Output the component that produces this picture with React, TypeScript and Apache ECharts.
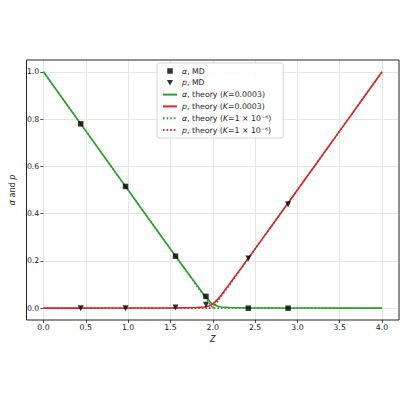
import * as echarts from 'echarts';
import { useEffect, useRef } from 'react';

// MD sample points
const mdZ = [0.44, 0.97, 1.56, 1.92, 2.42, 2.89];
const mdAlpha = [0.78, 0.515, 0.22, 0.05, 0.0, 0.0];
const mdP = [0.0, 0.0, 0.003, 0.015, 0.21, 0.44];

// theory, K = 0.0003
const thZ = [0, 0.5, 1.0, 1.5, 1.8, 1.9, 1.95, 2.0, 2.05, 2.1, 2.2, 2.5, 3.0, 3.5, 4.0];
const thAlpha = [1.0, 0.75, 0.5, 0.25, 0.103, 0.055, 0.034, 0.017, 0.009, 0.005, 0.003, 0.001, 0.0006, 0.0004, 0.0003];
const thP = [0.0003, 0.0004, 0.0006, 0.001, 0.003, 0.005, 0.009, 0.017, 0.034, 0.055, 0.103, 0.251, 0.5, 0.75, 1.0];

// theory, K = 1e-6
const th2Z = [0, 1.0, 1.9, 1.98, 2.0, 2.02, 2.1, 3.0, 4.0];
const th2Alpha = [1.0, 0.5, 0.05, 0.01, 0.001, 0.0001, 0.0, 0.0, 0.0];
const th2P = [0.0, 0.0, 0.0, 0.0001, 0.001, 0.01, 0.05, 0.5, 1.0];

const xTicks = [0, 0.5, 1.0, 1.5, 2.0, 2.5, 3.0, 3.5, 4.0];
const yTicks = [0, 0.2, 0.4, 0.6, 0.8, 1.0];

const GREEN = '#2ca02c';
const RED = '#d62728';
const FONT = '"DejaVu Sans", sans-serif';

const pairs = (xs: number[], ys: number[]) => xs.map((x, i) => [x, ys[i]]);

const legendText: Record<string, string> = {
  aMD: '{i|α}, MD',
  pMD: '{i|p}, MD',
  aTh: '{i|α}, theory ({i|K}=0.0003)',
  pTh: '{i|p}, theory ({i|K}=0.0003)',
  aTh2: '{i|α}, theory ({i|K}=1 × 10⁻⁶)',
  pTh2: '{i|p}, theory ({i|K}=1 × 10⁻⁶)',
};

export default function App() {
  const ref = useRef<HTMLDivElement>(null);

  useEffect(() => {
    if (!ref.current) return undefined;
    const chart = echarts.init(ref.current, undefined, { renderer: 'svg' });

    // frame grid covers x -0.2..4.2, y -0.05..1.05
    const fL = 26.5, fT = 60, fW = 372.5, fH = 260;
    const xMin = -0.2, xMax = 4.2, yMin = -0.05, yMax = 1.05;
    const tL = fL + ((0 - xMin) / (xMax - xMin)) * fW;
    const tW = (4 / (xMax - xMin)) * fW;
    const tT = fT + ((yMax - 1) / (yMax - yMin)) * fH;
    const tH = (1 / (yMax - yMin)) * fH;

    const grid = { color: '#e6e6e6', width: 1 };
    const label = { color: '#222', fontSize: 7.8, fontFamily: FONT };
    const tick = { show: true, length: 3, lineStyle: { color: '#222', width: 0.8 } };
    const hidden = {
      axisLine: { show: false }, axisTick: { show: false },
      axisLabel: { show: false }, splitLine: { show: false },
    };
    const italic = { i: { fontStyle: 'italic', fontSize: 8, fontFamily: FONT, color: '#222' } };

    chart.setOption({
      animation: false,
      backgroundColor: '#fff',
      textStyle: { fontFamily: FONT },
      grid: [
        { left: fL, top: fT, width: fW, height: fH, show: true, borderColor: '#222', borderWidth: 1, backgroundColor: 'transparent', z: 3 },
        { left: tL, top: fT, width: tW, height: fH },
        { left: fL, top: tT, width: fW, height: tH },
      ],
      xAxis: [
        { gridIndex: 0, type: 'value', min: xMin, max: xMax, ...hidden },
        {
          gridIndex: 1, type: 'value', min: 0, max: 4, interval: 0.5,
          axisLine: { show: false }, axisTick: tick,
          axisLabel: { ...label, margin: 3, formatter: (v: number) => (xTicks.includes(v) ? v.toFixed(1) : '') },
          splitLine: { show: true, lineStyle: grid },
          name: '{i|Z}', nameLocation: 'middle', nameGap: 15,
          nameTextStyle: { ...label, fontSize: 8, rich: italic },
        },
        { gridIndex: 2, type: 'value', min: 0, max: 1, ...hidden },
      ],
      yAxis: [
        { gridIndex: 0, type: 'value', min: yMin, max: yMax, ...hidden },
        { gridIndex: 1, type: 'value', min: 0, max: 1, ...hidden },
        {
          gridIndex: 2, type: 'value', min: 0, max: 1, interval: 0.2,
          axisLine: { show: false }, axisTick: tick,
          axisLabel: { ...label, margin: 4, formatter: (v: number) => (yTicks.some((t) => Math.abs(t - v) < 1e-9) ? v.toFixed(1) : '') },
          splitLine: { show: true, lineStyle: grid },
          name: '{i|α} and {i|p}', nameLocation: 'middle', nameGap: 20, nameRotate: 90,
          nameTextStyle: { ...label, fontSize: 8, rich: italic },
        },
      ],
      legend: {
        orient: 'vertical',
        left: 157,
        top: 63,
        padding: [4, 12, 4, 5],
        itemWidth: 14,
        itemHeight: 5.5,
        itemGap: 3.8,
        itemTextGap: 6,
        symbolRotate: 0,
        backgroundColor: 'rgba(255,255,255,0.85)',
        borderColor: '#cccccc',
        borderWidth: 0.8,
        borderRadius: 2,
        data: [
          { name: 'aMD', icon: 'path://M0,0 L1,0 L1,1 L0,1 Z' },
          { name: 'pMD', icon: 'path://M0,0 L10,0 L5,9 Z' },
          'aTh', 'pTh', 'aTh2', 'pTh2',
        ],
        formatter: (name: string) => legendText[name],
        textStyle: {
          color: '#222', fontSize: 7.8, fontFamily: FONT, lineHeight: 8,
          rich: { i: { fontStyle: 'italic', fontSize: 7.8, fontFamily: FONT, color: '#222', lineHeight: 8 } },
        },
        z: 10,
      },
      series: [
        {
          name: 'aTh2', type: 'line', xAxisIndex: 0, yAxisIndex: 0, data: pairs(th2Z, th2Alpha),
          showSymbol: false, symbol: 'none', lineStyle: { color: GREEN, width: 1.6, type: [1.6, 2] },
          itemStyle: { color: GREEN, opacity: 0 }, z: 2,
        },
        {
          name: 'pTh2', type: 'line', xAxisIndex: 0, yAxisIndex: 0, data: pairs(th2Z, th2P),
          showSymbol: false, symbol: 'none', lineStyle: { color: RED, width: 1.6, type: [1.6, 2] },
          itemStyle: { color: RED, opacity: 0 }, z: 2,
        },
        {
          name: 'aTh', type: 'line', xAxisIndex: 0, yAxisIndex: 0, data: pairs(thZ, thAlpha), smooth: 0.2,
          showSymbol: false, symbol: 'none', lineStyle: { color: GREEN, width: 1.6 },
          itemStyle: { color: GREEN, opacity: 0 }, z: 3,
        },
        {
          name: 'pTh', type: 'line', xAxisIndex: 0, yAxisIndex: 0, data: pairs(thZ, thP), smooth: 0.2,
          showSymbol: false, symbol: 'none', lineStyle: { color: RED, width: 1.6 },
          itemStyle: { color: RED, opacity: 0 }, z: 3,
        },
        {
          name: 'aMD', type: 'scatter', xAxisIndex: 0, yAxisIndex: 0, data: pairs(mdZ, mdAlpha),
          symbol: 'rect', symbolSize: 5.5, itemStyle: { color: '#000' }, clip: false, z: 4,
        },
        {
          name: 'pMD', type: 'scatter', xAxisIndex: 0, yAxisIndex: 0, data: pairs(mdZ, mdP),
          symbol: 'triangle', symbolRotate: 180, symbolSize: 6, itemStyle: { color: '#000' }, clip: false, z: 4,
        },
      ],
    });

    return () => chart.dispose();
  }, []);

  return <div ref={ref} style={{ position: 'absolute', left: 0, top: 0, width: 400, height: 400 }} />;
}
